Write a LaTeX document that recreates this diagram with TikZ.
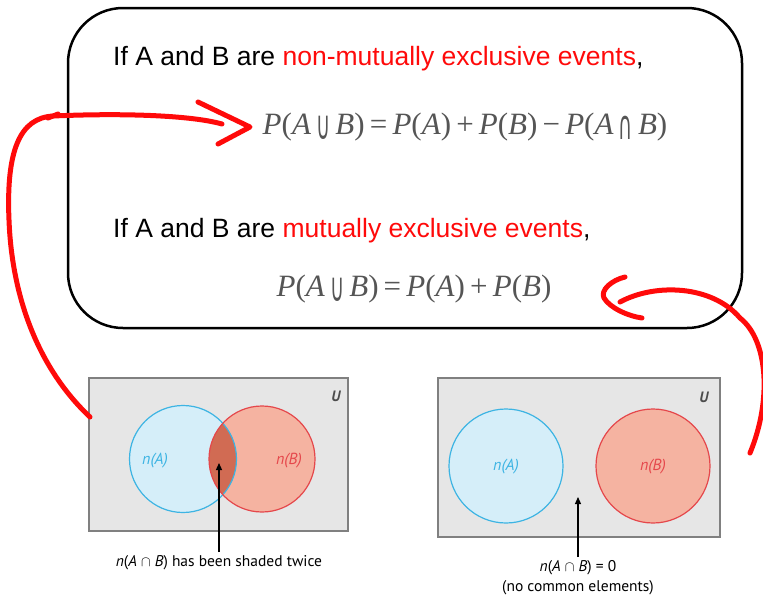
\documentclass[tikz,border=0pt]{standalone}
\usepackage[no-math]{fontspec}
\setmainfont{Liberation Sans}
\newfontfamily\vennfont{PT Sans}
\newfontfamily\eqfont{Liberation Serif}
\newfontfamily\symfont{DejaVu Sans}
\usetikzlibrary{arrows.meta}
\definecolor{setA}{HTML}{D5EEF9}
\definecolor{setAline}{HTML}{3DB4E3}
\definecolor{setB}{HTML}{F5B3A1}
\definecolor{setBline}{HTML}{E5474B}
\definecolor{overlap}{HTML}{D16B53}
\definecolor{universe}{HTML}{E6E6E6}
\definecolor{penred}{HTML}{FF0A0A}
\definecolor{eqgray}{HTML}{555555}
\newcommand{\ev}[1]{\textit{#1}}
\newcommand{\uni}{\raisebox{-0.16em}{\scalebox{0.62}[1.3]{\symfont ∪}}}
\newcommand{\inter}{\raisebox{-0.16em}{\scalebox{0.62}[1.3]{\symfont ∩}}}
\tikzset{
	heading/.style={anchor=base west, inner sep=0pt, font=\fontsize{26.5}{30}\selectfont},
	formula/.style={inner sep=0pt, text=eqgray, font=\eqfont\fontsize{31}{33}\selectfont},
	vennbox/.style={fill=universe, draw=black!50, line width=1.2pt},
	vennlabel/.style={inner sep=0pt, font=\vennfont\itshape\fontsize{16}{18}\selectfont},
	caption/.style={inner sep=0pt, align=center, font=\vennfont\fontsize{15.5}{20}\selectfont},
	pen/.style={penred, line width=5pt, line cap=round, line join=round}
}
\begin{document}
\begin{tikzpicture}[x=1pt, y=-1pt]
			%%%%% START %%%%%
			\useasboundingbox (0, 0) rectangle (763, 598);
			
			% rule box
			\draw[line width=2.5pt, rounded corners=55pt] (68, 8) rectangle (742, 328);
			
			\node[heading] (head1) at (113, 65) {If A and B are \textcolor{penred}{non-mutually exclusive events},};
			\node[formula] (eq1) at (465, 127) {\ev{P}(\ev{A}\,\uni\,\ev{B})\,=\,\ev{P}(\ev{A})\,+\,\ev{P}(\ev{B})\,−\,\ev{P}(\ev{A}\,\inter\,\ev{B})};
			\node[heading] (head2) at (113, 237) {If A and B are \textcolor{penred}{mutually exclusive events},};
			\node[formula] (eq2) at (414, 289) {\ev{P}(\ev{A}\,\uni\,\ev{B})\,=\,\ev{P}(\ev{A})\,+\,\ev{P}(\ev{B})};
			
			% overlapping sets
			\draw[vennbox] (89, 378) rectangle (348, 531);
			\node[vennlabel, font=\vennfont\itshape\bfseries\fontsize{15}{16}\selectfont, text=black!70] (U1) at (336, 396) {U};
			\fill[setA] (183, 459) circle (53.5);
			\fill[setB] (262, 459) circle (53);
			\begin{scope}
				\clip (183, 459) circle (53.5);
				\fill[overlap] (262, 459) circle (53);
			\end{scope}
			\draw[setAline, line width=1.2pt] (183, 459) circle (53.5);
			\draw[setBline, line width=1.2pt] (262, 459) circle (53);
			\node[vennlabel, text=setAline] (nA1) at (155, 461) {n(A)};
			\node[vennlabel, text=setBline] (nB1) at (289, 461) {n(B)};
			\node[caption] (cap1) at (219, 563) {\textit{n}(\textit{A} $\cap$ \textit{B}) has been shaded twice};
			\coordinate (tip1) at (219, 463);
			\draw[line width=1.2pt, -{Triangle[length=7pt, width=6pt]}] (219, 552) -- (tip1);
			
			% disjoint sets
			\draw[vennbox] (438, 378) rectangle (720, 537);
			\node[vennlabel, font=\vennfont\itshape\bfseries\fontsize{15}{16}\selectfont, text=black!70] (U2) at (704, 397) {U};
			\draw[setAline, fill=setA, line width=1.2pt] (506, 466) circle (57);
			\draw[setBline, fill=setB, line width=1.2pt] (653, 466) circle (57);
			\node[vennlabel, text=setAline] (nA2) at (506, 467) {n(A)};
			\node[vennlabel, text=setBline] (nB2) at (653, 467) {n(B)};
			\node[caption] (cap2) at (578, 578) {\textit{n}(\textit{A} $\cap$ \textit{B}) = 0\\(no common elements)};
			\coordinate (tip2) at (578, 497);
			\draw[line width=1.2pt, -{Triangle[length=7pt, width=6pt]}] (578, 557) -- (tip2);
			
			% pen strokes
			\draw[pen] (90, 417) .. controls (40, 370) and (12, 300) .. (9, 220) .. controls (6, 150) and (20, 118) .. (53, 116) .. controls (120, 113) and (190, 115) .. (222, 124);
			\draw[pen] (48, 118) -- (58, 114);
			\draw[pen] (198, 102) -- (250, 127) -- (218, 144);
			\draw[pen] (750, 453) .. controls (772, 400) and (768, 340) .. (740, 318) .. controls (712, 285) and (655, 283) .. (620, 302);
			\draw[pen] (625, 277) .. controls (612, 280) and (600, 290) .. (604, 298) .. controls (610, 308) and (628, 316) .. (642, 318);
			
			%%%%% END %%%%%
\end{tikzpicture}
\end{document}
